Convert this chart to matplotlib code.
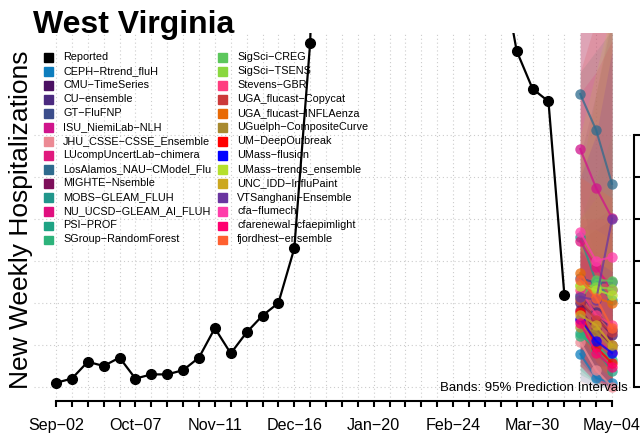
import matplotlib
matplotlib.use("Agg")
import matplotlib.pyplot as plt
from matplotlib.patches import Rectangle

plt.rcParams['font.family'] = ['Liberation Sans', 'DejaVu Sans']

# weekly reported hospitalizations, Sep-02 .. Apr-13 (week index 0..32)
reported = [2, 4, 12, 10, 14, 4, 6, 6, 8, 14, 28, 16, 26, 34, 40, 66, 164,
            420, 380, 300, 250, 230, 220, 230, 240, 250, 260, 240, 202,
            160, 142, 136, 44]

tick_labels = ['Sep\u221202', 'Oct\u221207', 'Nov\u221211', 'Dec\u221216',
               'Jan\u221220', 'Feb\u221224', 'Mar\u221230', 'May\u221204']
n_weeks = 36
fc_weeks = [33, 34, 35]

model_names = [
    'CEPH\u2212Rtrend_fluH', 'CMU\u2212TimeSeries', 'CU\u2212ensemble', 'GT\u2212FluFNP',
    'ISU_NiemiLab\u2212NLH', 'JHU_CSSE\u2212CSSE_Ensemble', 'LUcompUncertLab\u2212chimera',
    'LosAlamos_NAU\u2212CModel_Flu', 'MIGHTE\u2212Nsemble', 'MOBS\u2212GLEAM_FLUH',
    'NU_UCSD\u2212GLEAM_AI_FLUH', 'PSI\u2212PROF', 'SGroup\u2212RandomForest',
    'SigSci\u2212CREG', 'SigSci\u2212TSENS', 'Stevens\u2212GBR', 'UGA_flucast\u2212Copycat',
    'UGA_flucast\u2212INFLAenza', 'UGuelph\u2212CompositeCurve', 'UM\u2212DeepOutbreak',
    'UMass\u2212flusion', 'UMass\u2212trends_ensemble', 'UNC_IDD\u2212InfluPaint',
    'VTSanghani\u2212Ensemble', 'cfa\u2212flumech', 'cfarenewal\u2212cfaepimlight',
    'fjordhest\u2212ensemble',
]
model_colors = [
    '#0E7EBE', '#4B1163', '#4B2A80', '#3C4E8C', '#D0148C', '#EC8A94', '#E0197D',
    '#2E6B8E', '#7D0F5A', '#21968B', '#E0107F', '#1EA384', '#2DB37B',
    '#5CC75C', '#8AD83F', '#FF3D7F', '#CC3A3A', '#E86A06', '#A88A30', '#FF0000',
    '#0000FF', '#B5E02D', '#CCA820', '#6A35A0', '#FF3DAA', '#FF0070', '#FF6030',
]

# median forecasts for Apr-20, Apr-27, May-04
fc_median = [
    [15.7, 4.3, 1.9], [40, 32.9, 24.8], [43.8, 35.7, 27.1], [51.9, 49.5, 50],
    [113.3, 94.8, 80.5], [21.4, 8.1, 0], [31.9, 22.4, 16.7], [139.5, 122.4, 96.7],
    [36.7, 27.1, 20], [71.4, 50, 41.2], [69.5, 57.1, 46.2], [25.7, 17.6, 7.6],
    [24.3, 20, 12.9], [42.4, 51, 50.5], [48.6, 47.6, 46.7], [46.2, 34.3, 29.5],
    [41.4, 31.9, 26.2], [54.3, 42.4, 40], [28.6, 26.2, 18.6], [35.7, 19, 11.4],
    [32.4, 21.9, 16.2], [48.1, 46.2, 43.8], [34.3, 29.5, 20], [42.9, 41.4, 80],
    [73.8, 60, 61.9], [30.5, 16.2, 9.5], [51, 42.4, 28.1],
]
# 95% interval bounds
fc_lower = [
    [3, 0, 0], [20, 10, 4], [22, 12, 5], [25, 15, 8], [60, 35, 20], [2, 0, 0],
    [10, 3, 0], [90, 60, 30], [15, 6, 2], [40, 20, 10], [35, 20, 10], [8, 2, 0],
    [6, 2, 0], [20, 18, 12], [25, 18, 12], [22, 10, 4], [10, 2, 0], [25, 12, 5],
    [10, 5, 2], [15, 3, 0], [12, 4, 0], [20, 10, 4], [12, 5, 0], [20, 10, 10],
    [40, 25, 15], [10, 2, 0], [25, 12, 4],
]
fc_upper = [
    [40, 35, 30], [70, 75, 80], [75, 80, 85], [110, 140, 175], [180, 190, 200],
    [50, 45, 40], [60, 60, 55], [200, 210, 220], [70, 65, 60], [150, 160, 170],
    [140, 150, 165], [50, 45, 40], [50, 48, 45], [80, 100, 120], [80, 90, 100],
    [80, 80, 80], [150, 175, 200], [170, 190, 210], [100, 140, 180], [65, 55, 50],
    [65, 60, 55], [120, 150, 180], [75, 75, 70], [100, 120, 160], [175, 180, 190],
    [65, 55, 50], [100, 95, 90],
]

W, H = 640, 437


def fx(px):
    return px / W


def fy(py):
    return 1 - py / H


fig = plt.figure(figsize=(W / 100, H / 100), dpi=100)
ax = fig.add_axes([fx(34), fy(401), 600 / W, 368 / H])
ax.set_xlim(-1.385, 36.385)
ax.set_ylim(-6.67, 168.57)

grid_kw = dict(color='#CCCCCC', lw=0.8, ls=(0, (1, 2.5)), zorder=0)
for w in range(n_weeks):
    ax.axvline(w, **grid_kw)
for v in range(0, 121, 20):
    ax.axhline(v, **grid_kw)

for col, lo, hi in zip(model_colors, fc_lower, fc_upper):
    ax.fill_between(fc_weeks, lo, hi, color=col, alpha=0.16, lw=0, zorder=1)

for col, med in zip(model_colors, fc_median):
    ax.plot(fc_weeks, med, color=col, lw=1.5, marker='o', ms=7.5, alpha=0.75,
            mec='none', zorder=3)

ax.plot(range(len(reported)), reported, color='black', lw=1.6, marker='o',
        ms=7, zorder=4)

for s in ['left', 'top']:
    ax.spines[s].set_visible(False)
ax.spines['bottom'].set_bounds(0, n_weeks - 1)
ax.spines['bottom'].set_linewidth(1.5)
ax.spines['right'].set_bounds(0, 120)
ax.spines['right'].set_linewidth(1.5)
ax.set_xticks(range(n_weeks))
ax.set_xticklabels([tick_labels[w // 5] if w % 5 == 0 else '' for w in range(n_weeks)],
                   fontsize=11.6)
ax.tick_params(axis='x', direction='out', length=4, width=1.5, pad=8)
ax.yaxis.tick_right()
ax.set_yticks(range(0, 121, 20))
ax.tick_params(axis='y', direction='out', length=6, width=1.5, labelright=False)

fig.text(fx(33), fy(33), 'West Virginia', fontsize=23, fontweight='bold',
         va='baseline')
fig.text(fx(21), fy(220), 'New Weekly Hospitalizations', rotation=90,
         ha='center', va='center', fontsize=19)
fig.text(fx(628), fy(391), 'Bands: 95% Prediction Intervals', ha='right',
         va='baseline', fontsize=9.5)

# legend in two columns
entries = [('Reported', 'black')] + list(zip(model_names, model_colors))
for i, (name, col) in enumerate(entries):
    c, r = divmod(i, 14)
    y = 57.5 + r * 14
    sx, tx = (44, 63) if c == 0 else (218, 237)
    fig.patches.append(Rectangle((fx(sx), fy(y + 4)), 9 / W, 8 / H, color=col,
                                 transform=fig.transFigure, figure=fig))
    fig.text(fx(tx), fy(y), name, fontsize=7.8, va='center')

fig.savefig('out.png', dpi=100)
